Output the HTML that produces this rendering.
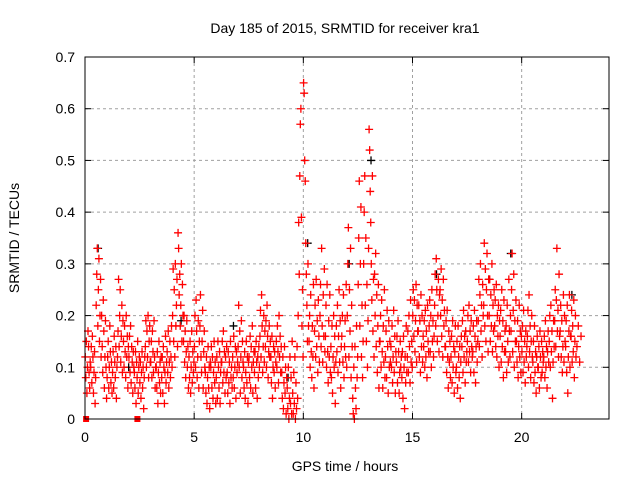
<!DOCTYPE html>
<html><head><meta charset="utf-8"><style>
html,body{margin:0;padding:0;background:#fff;}
svg{display:block;font-family:"Liberation Sans",sans-serif;}
</style></head><body>
<svg id="chart" width="640" height="480" viewBox="0 0 640 480" xmlns="http://www.w3.org/2000/svg">
<rect width="640" height="480" fill="#fff"/>
<text x="345" y="33" font-size="14" text-anchor="middle" fill="#000">Day 185 of 2015, SRMTID for receiver kra1</text>
<g id="grid"></g>
<g id="ticks"></g>
<g id="marks"></g>
<rect x="85" y="57" width="524" height="362" fill="none" stroke="#000" stroke-width="1"/>
<text x="345" y="471" font-size="14" text-anchor="middle">GPS time / hours</text>
<text x="19" y="238" font-size="14" text-anchor="middle" transform="rotate(-90 19 238)">SRMTID / TECUs</text>
</svg>
<script>
const xTicks=[0,5,10,15,20];
const yTicks=[0,0.1,0.2,0.3,0.4,0.5,0.6,0.7];
const yTickLabels=["0","0.1","0.2","0.3","0.4","0.5","0.6","0.7"];
const binHours=0.25;
const redBins=[
"12 8 15 5 10 17 14 9 6 11","10 14 7 16 12 5 9 13 3 8","22 28 33 18 25 31 15 20 27 12","20 14 9 23 17 6 12 19 10 4",
"8 12 15 6 10 18 13 7 11 5","9 13 6 16 11 8 14 4 10 12","17 27 14 20 25 11 16 22 9 19","15 10 18 13 8 20 12 16 6 14",
"12 16 9 18 7 14 11 5 13 10","9 6 13 3 11 8 15 5 10 12","7 11 4 9 13 6 10 2 8 12","14 19 10 17 12 20 8 15 18 11",
"11 15 8 17 13 9 19 12 6 10","10 6 13 3 9 15 7 11 5 12","8 12 5 14 10 3 9 16 7 11","13 9 17 6 11 15 8 12 18 10",
"20 29 15 25 12 30 18 22 27 14","36 33 24 28 18 22 30 15 26 20","15 20 11 17 8 13 19 10 14 6","12 8 15 5 10 17 7 13 9 11",
"14 20 10 23 17 8 12 19 6 15","18 24 12 9 15 21 6 13 17 10","9 5 12 3 8 14 6 10 2 11","10 14 6 12 4 9 15 7 11 3",
"8 12 4 15 10 6 13 3 9 11","11 15 7 17 9 13 5 12 8 14","9 5 13 7 11 3 15 8 10 6","12 8 16 6 10 14 4 13 9 11",
"14 22 10 17 5 12 19 8 15 11","10 6 13 4 9 15 7 12 3 11","12 8 16 6 14 10 18 5 11 13","9 13 6 15 11 4 12 8 14 10",
"16 21 12 24 18 9 14 20 11 17","14 19 10 22 16 8 13 18 12 15","12 7 16 4 10 14 9 13 6 11","15 10 18 13 7 20 12 16 9 14",
"9 4 12 2 7 14 5 10 1 8","6 2 10 0 4 12 3 8 1 15","5 1 9 3 12 0 7 2 14 4","20 38 28 47 57 60 39 18 25 12",
"65 63 50 46 34 28 22 15 30 18","15 20 10 24 13 8 18 12 26 6","17 22 12 27 14 19 9 23 16 11","20 26 14 33 18 11 24 16 29 13",
"16 22 10 26 13 7 19 12 24 9","14 8 18 5 12 20 10 16 3 11","18 13 22 9 16 25 11 19 6 14","16 20 11 24 8 14 19 12 26 10",
"20 30 37 12 25 17 33 8 22 14","4 1 10 0 14 6 2 18 8 12","26 35 46 18 30 41 12 22 8 15","30 40 47 22 35 15 26 10 19 33",
"56 52 44 38 30 23 47 17 27 12","28 20 32 14 24 9 18 26 6 15","15 20 10 23 13 6 18 11 25 8","12 17 8 21 14 5 19 10 15 11",
"14 10 18 7 12 21 9 16 5 13","11 16 7 19 13 5 9 15 10 12","8 13 4 16 10 2 12 7 18 9","12 17 9 20 14 7 23 11 15 10",
"20 25 16 23 13 19 26 11 22 17","17 22 12 19 9 24 14 20 11 16","14 19 10 21 12 17 8 22 15 13","18 23 13 20 10 25 15 19 12 16",
"22 28 18 31 25 15 20 27 13 24","25 20 29 16 23 12 27 18 21 14","14 19 9 21 12 6 17 11 15 8","12 16 7 19 10 14 5 13 18 9",
"10 15 6 18 12 8 14 4 11 16","14 19 9 21 12 16 7 17 11 13","15 20 11 22 13 17 9 19 14 12","13 18 9 21 16 7 14 19 11 15",
"19 27 14 24 30 17 22 12 26 20","22 34 18 29 15 25 32 20 13 27","20 27 15 24 18 30 13 22 17 25","18 23 14 26 12 20 16 22 10 19",
"16 21 11 25 14 19 8 23 13 17","13 18 9 22 15 11 27 17 12 20","17 25 32 13 21 28 10 19 15 23","15 11 19 8 14 22 12 17 9 16",
"13 18 9 21 11 15 7 17 12 14","16 21 10 24 13 18 8 15 20 12","11 15 7 18 9 13 5 12 16 10","10 14 6 17 12 8 15 9 13 11",
"12 16 8 19 10 14 6 13 17 11","15 20 10 22 13 17 4 11 19 14","19 25 14 23 33 17 21 12 28 16","17 22 12 19 9 14 24 11 20 15",
"14 19 9 22 5 12 17 24 10 16","16 21 11 18 13 23 8 15 20 12","14 18 11 16"
];
const blackTimes=[0.6,2.0,4.4,6.8,10.2,12.1,13.1,16.1,18.5,19.5,22.3,9.3];
const blackValues=[0.33,0.10,0.19,0.18,0.34,0.30,0.50,0.28,0.27,0.32,0.24,0.08];
const squareTimes=[0.05,2.4];
const squareValues=[0,0];

const X0=85,X1=609,Y0=419,Y1=57,XMAX=24,YMAX=0.7;
const sx=h=>X0+h/XMAX*(X1-X0);
const sy=v=>Y0-v/YMAX*(Y0-Y1);
const NS="http://www.w3.org/2000/svg";
function mk(tag,attrs,parent){const e=document.createElementNS(NS,tag);for(const k in attrs)e.setAttribute(k,attrs[k]);parent.appendChild(e);return e;}
const grid=document.getElementById('grid'),ticks=document.getElementById('ticks'),marks=document.getElementById('marks');
xTicks.forEach(t=>{
  const x=sx(t);
  if(t>0){const g=mk('line',{x1:x,x2:x,y1:Y1,y2:Y0,stroke:'#a0a0a0','stroke-dasharray':'3,3'},grid);
  
  }
  mk('line',{x1:x,x2:x,y1:Y0,y2:Y0-6,stroke:'#000'},ticks);
  mk('line',{x1:x,x2:x,y1:Y1,y2:Y1+6,stroke:'#000'},ticks);
  const l=mk('text',{x:x,y:Y0+23,'font-size':14,'text-anchor':'middle'},ticks);
  l.textContent=t;
  
  
});
yTicks.forEach((t,i)=>{
  const y=sy(t);
  if(i>0&&i<yTicks.length-1){const g=mk('line',{x1:X0,x2:X1,y1:y,y2:y,stroke:'#a0a0a0','stroke-dasharray':'3,3'},grid);
  
  }
  mk('line',{x1:X0,x2:X0+6,y1:y,y2:y,stroke:'#000'},ticks);
  mk('line',{x1:X1,x2:X1-6,y1:y,y2:y,stroke:'#000'},ticks);
  const l=mk('text',{x:X0-10,y:y+5,'font-size':14,'text-anchor':'end'},ticks);
  l.textContent=yTickLabels[i];
  
  
});
function plus(h,v,color,name){
  const x=sx(h),y=sy(v);
  const p=mk('path',{d:`M${x-4},${y}h8M${x},${y-4}v8`,stroke:color,'stroke-width':1.3,fill:'none'},marks);
  
  
}
blackTimes.forEach((t,i)=>plus(t,blackValues[i],'#000','black-point'));
redBins.forEach((s,b)=>{
  const vals=s.split(' ').map(Number);
  vals.forEach((v,j)=>{
    const t=b*binHours+(j+0.5)/vals.length*binHours;
    plus(t,v/100,'#ff0000','red-point');
  });
});
squareTimes.forEach((t,i)=>{
  const r=mk('rect',{x:sx(t)-3,y:sy(squareValues[i])-3,width:6,height:6,fill:'#ff0000'},marks);
  
  
});
</script>
</body></html>
